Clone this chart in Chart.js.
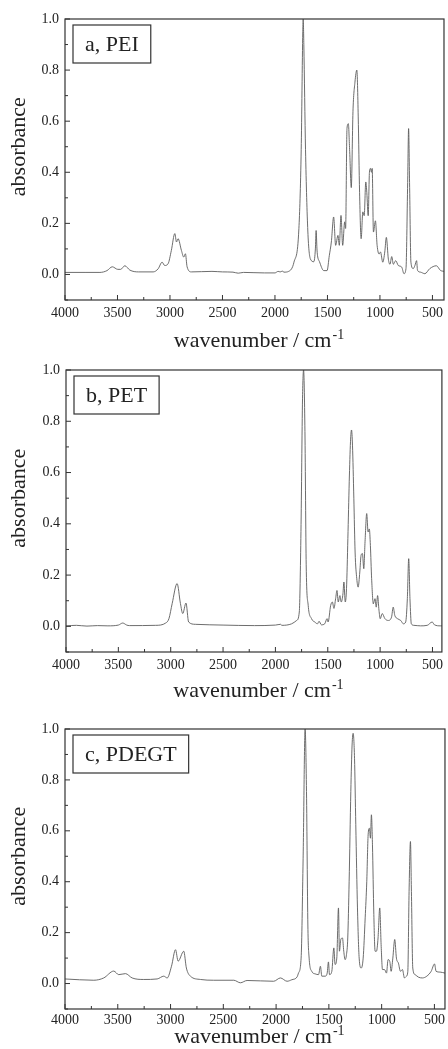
<!DOCTYPE html>
<html>
<head>
<meta charset="utf-8">
<script src="https://cdn.jsdelivr.net/npm/chart.js@4.4.1/dist/chart.umd.min.js"></script>
<style>
  body { margin: 0; background: #fff; }
  #wrap { position: relative; width: 448px; height: 1049px; }
  canvas { position: absolute; left: 0; }
</style>
</head>
<body>
<div id="wrap">
  <canvas id="pei" width="448" height="350" style="top:0px"></canvas>
  <canvas id="pet" width="448" height="350" style="top:350px"></canvas>
  <canvas id="pdegt" width="448" height="349" style="top:700px"></canvas>
</div>
<script>
// tick labels
const xTicks = [4000, 3500, 3000, 2500, 2000, 1500, 1000, 500];
const yTicks = [0.0, 0.2, 0.4, 0.6, 0.8, 1.0];

// a, PEI
const peiWavenumber = [4000, 3800, 3667, 3600, 3550, 3497, 3470, 3430, 3382, 3300, 3160, 3113, 3075, 3050, 3018, 2987, 2954, 2938, 2923, 2891, 2869, 2853, 2837, 2796, 2600, 2500, 2400, 2350, 2300, 2100, 2000, 1970, 1950, 1930, 1914, 1870, 1819, 1772, 1750, 1735, 1731, 1725, 1709, 1687, 1662, 1630, 1615, 1608, 1600, 1595, 1576, 1535, 1504, 1482, 1463, 1441, 1422, 1400, 1387, 1371, 1355, 1336, 1327, 1314, 1301, 1289, 1273, 1257, 1238, 1220, 1207, 1194, 1179, 1163, 1150, 1135, 1125, 1112, 1100, 1090, 1081, 1074, 1062, 1043, 1027, 1008, 995, 973, 954, 939, 920, 904, 888, 872, 850, 825, 793, 771, 752, 736, 727, 718, 705, 683, 667, 651, 642, 614, 572, 525, 462, 424, 390];
const peiAbsorbance = [0.008, 0.008, 0.008, 0.015, 0.03, 0.02, 0.02, 0.034, 0.017, 0.01, 0.01, 0.022, 0.048, 0.035, 0.042, 0.094, 0.16, 0.127, 0.14, 0.094, 0.068, 0.081, 0.03, 0.01, 0.012, 0.01, 0.009, 0.005, 0.008, 0.006, 0.006, 0.012, 0.01, 0.013, 0.009, 0.012, 0.048, 0.18, 0.49, 0.95, 1.0, 0.9, 0.49, 0.17, 0.06, 0.05, 0.1, 0.172, 0.1, 0.075, 0.05, 0.015, 0.015, 0.075, 0.127, 0.225, 0.114, 0.153, 0.114, 0.231, 0.114, 0.206, 0.18, 0.571, 0.59, 0.49, 0.34, 0.637, 0.753, 0.8, 0.62, 0.32, 0.14, 0.245, 0.23, 0.362, 0.32, 0.23, 0.40, 0.415, 0.40, 0.415, 0.166, 0.21, 0.114, 0.08, 0.088, 0.048, 0.088, 0.145, 0.06, 0.04, 0.07, 0.04, 0.054, 0.035, 0.029, 0.003, 0.023, 0.36, 0.571, 0.36, 0.048, 0.023, 0.035, 0.054, 0.016, 0.009, 0.003, 0.023, 0.034, 0.016, 0.012];

// b, PET
const petWavenumber = [4000, 3900, 3800, 3700, 3600, 3500, 3458, 3420, 3395, 3143, 3048, 3017, 2986, 2939, 2907, 2885, 2854, 2829, 2765, 2500, 2200, 2000, 1950, 1939, 1845, 1797, 1772, 1756, 1741, 1731, 1718, 1706, 1687, 1655, 1624, 1598, 1583, 1561, 1529, 1507, 1497, 1472, 1456, 1441, 1425, 1412, 1400, 1384, 1371, 1355, 1346, 1333, 1321, 1308, 1295, 1283, 1273, 1264, 1251, 1239, 1223, 1210, 1194, 1182, 1169, 1156, 1144, 1128, 1115, 1103, 1093, 1081, 1065, 1049, 1037, 1024, 1011, 999, 980, 954, 923, 891, 875, 860, 834, 803, 778, 756, 740, 727, 715, 702, 677, 614, 550, 503, 481, 424, 410];
const petAbsorbance = [0.002, 0.004, 0.001, 0.003, 0.002, 0.005, 0.013, 0.005, 0.003, 0.004, 0.013, 0.03, 0.089, 0.167, 0.089, 0.05, 0.091, 0.017, 0.008, 0.005, 0.003, 0.005, 0.008, 0.004, 0.01, 0.023, 0.056, 0.37, 0.89, 1.0, 0.76, 0.24, 0.082, 0.03, 0.017, 0.01, 0.02, 0.006, 0.01, 0.03, 0.017, 0.082, 0.095, 0.07, 0.108, 0.14, 0.095, 0.12, 0.095, 0.127, 0.173, 0.095, 0.147, 0.343, 0.564, 0.72, 0.766, 0.707, 0.50, 0.29, 0.186, 0.153, 0.212, 0.277, 0.284, 0.225, 0.33, 0.44, 0.368, 0.38, 0.316, 0.186, 0.088, 0.108, 0.075, 0.12, 0.063, 0.03, 0.05, 0.03, 0.023, 0.036, 0.075, 0.043, 0.03, 0.023, 0.01, 0.017, 0.108, 0.264, 0.108, 0.01, 0.004, 0.002, 0.004, 0.017, 0.006, 0.002, 0.002];

// c, PDEGT
const pdegtWavenumber = [4000, 3727, 3633, 3538, 3491, 3427, 3364, 3254, 3127, 3064, 3032, 2991, 2953, 2928, 2875, 2850, 2812, 2717, 2591, 2401, 2338, 2275, 2023, 1959, 1896, 1851, 1801, 1788, 1763, 1744, 1725, 1712, 1699, 1687, 1662, 1630, 1598, 1580, 1567, 1535, 1516, 1504, 1494, 1472, 1453, 1441, 1425, 1409, 1400, 1387, 1371, 1359, 1346, 1333, 1321, 1308, 1292, 1280, 1270, 1257, 1245, 1229, 1213, 1194, 1175, 1156, 1141, 1128, 1116, 1106, 1097, 1087, 1074, 1062, 1049, 1034, 1018, 1005, 992, 973, 954, 939, 923, 910, 894, 876, 860, 841, 822, 803, 784, 765, 752, 740, 727, 718, 705, 683, 651, 614, 572, 531, 499, 484, 446, 400];
const pdegtAbsorbance = [0.018, 0.013, 0.022, 0.049, 0.035, 0.039, 0.022, 0.016, 0.018, 0.029, 0.022, 0.068, 0.133, 0.088, 0.127, 0.061, 0.029, 0.016, 0.013, 0.013, 0.003, 0.012, 0.009, 0.022, 0.009, 0.015, 0.026, 0.041, 0.1, 0.49, 1.0, 0.754, 0.23, 0.1, 0.048, 0.038, 0.035, 0.068, 0.029, 0.029, 0.041, 0.085, 0.035, 0.048, 0.14, 0.075, 0.1, 0.297, 0.127, 0.173, 0.179, 0.127, 0.094, 0.114, 0.179, 0.4, 0.754, 0.937, 0.983, 0.885, 0.624, 0.297, 0.1, 0.061, 0.1, 0.258, 0.4, 0.584, 0.61, 0.571, 0.663, 0.545, 0.271, 0.127, 0.127, 0.179, 0.297, 0.153, 0.055, 0.055, 0.041, 0.094, 0.087, 0.048, 0.1, 0.173, 0.1, 0.08, 0.048, 0.055, 0.022, 0.029, 0.048, 0.362, 0.558, 0.362, 0.061, 0.035, 0.025, 0.022, 0.029, 0.048, 0.077, 0.048, 0.045, 0.041];

const serif = "'Liberation Serif', 'Times New Roman', serif";
const inkColor = '#222';

// draws the frame, inward ticks, the sample label box and the axis titles
const spectrumDecor = {
  id: 'spectrumDecor',
  afterDraw(chart) {
    const ctx = chart.ctx;
    const area = chart.chartArea;
    const xs = chart.scales.x;
    const ys = chart.scales.y;
    const opts = chart.options.plugins.spectrumDecor;
    ctx.save();

    // frame
    ctx.strokeStyle = '#333';
    ctx.lineWidth = 1.2;
    ctx.strokeRect(area.left, area.top, area.right - area.left, area.bottom - area.top);

    // inward ticks
    ctx.lineWidth = 1;
    ctx.beginPath();
    xTicks.forEach(v => {
      const px = xs.getPixelForValue(v);
      ctx.moveTo(px, area.bottom); ctx.lineTo(px, area.bottom - 5);
      const pm = xs.getPixelForValue(v - 250);
      if (pm < area.right - 1) { ctx.moveTo(pm, area.bottom); ctx.lineTo(pm, area.bottom - 3); }
    });
    yTicks.forEach(v => {
      const py = ys.getPixelForValue(v);
      ctx.moveTo(area.left, py); ctx.lineTo(area.left + 5, py);
      const pm = ys.getPixelForValue(v - 0.1);
      ctx.moveTo(area.left, pm); ctx.lineTo(area.left + 3, pm);
    });
    ctx.stroke();

    // sample label box
    ctx.font = '22px ' + serif;
    const tw = ctx.measureText(opts.label).width;
    const bx = area.left + 8, by = area.top + 6, bw = tw + 24, bh = 38;
    ctx.fillStyle = '#fff';
    ctx.fillRect(bx, by, bw, bh);
    ctx.strokeStyle = '#333';
    ctx.lineWidth = 1.2;
    ctx.strokeRect(bx, by, bw, bh);
    ctx.fillStyle = inkColor;
    ctx.textBaseline = 'middle';
    ctx.textAlign = 'left';
    ctx.fillText(opts.label, bx + 12, by + bh / 2 + 1);

    // y title, centred on the 0..1 range
    ctx.save();
    ctx.translate(19, (ys.getPixelForValue(0) + ys.getPixelForValue(1)) / 2);
    ctx.rotate(-Math.PI / 2);
    ctx.textAlign = 'center';
    ctx.textBaseline = 'middle';
    ctx.font = '22px ' + serif;
    ctx.fillText('absorbance', 0, 0);
    ctx.restore();

    // x title with superscript
    const main = 'wavenumber / cm';
    const sup = '-1';
    ctx.font = '22px ' + serif;
    const mw = ctx.measureText(main).width;
    ctx.font = '14px ' + serif;
    const sw = ctx.measureText(sup).width;
    const startX = (area.left + area.right) / 2 + 4 - (mw + sw) / 2;
    const baseY = area.bottom + opts.titleOffset;
    ctx.textAlign = 'left';
    ctx.textBaseline = 'alphabetic';
    ctx.font = '22px ' + serif;
    ctx.fillText(main, startX, baseY);
    ctx.font = '14px ' + serif;
    ctx.fillText(sup, startX + mw + 1, baseY - 8);

    ctx.restore();
  }
};

function createSpectrum(elementId, wavenumbers, absorbance, panel) {
  const points = wavenumbers.map((w, i) => ({ x: w, y: absorbance[i] }));
  const ctx = document.getElementById(elementId).getContext('2d');
  return new Chart(ctx, {
    type: 'line',
    data: {
      datasets: [{
        data: points,
        borderColor: '#5c5c5c',
        borderWidth: 0.9,
        pointRadius: 0,
        cubicInterpolationMode: 'monotone',
        fill: false
      }]
    },
    options: {
      responsive: false,
      animation: false,
      layout: { padding: { top: panel.top, right: panel.right, left: 0, bottom: 0 } },
      plugins: {
        legend: { display: false },
        tooltip: { enabled: false },
        spectrumDecor: { label: panel.label, titleOffset: panel.titleOffset }
      },
      scales: {
        x: {
          type: 'linear',
          reverse: true,
          min: panel.xMin,
          max: 4000,
          grid: { display: false, drawTicks: false },
          border: { display: false },
          afterBuildTicks: scale => { scale.ticks = xTicks.map(v => ({ value: v })); },
          afterFit: scale => { scale.height = panel.xAxisHeight; },
          ticks: {
            autoSkip: false,
            maxRotation: 0,
            padding: panel.tickPad,
            color: inkColor,
            font: { family: serif, size: 14 },
            callback: v => String(v)
          }
        },
        y: {
          min: -0.1,
          max: 1.0,
          grid: { display: false, drawTicks: false },
          border: { display: false },
          afterBuildTicks: scale => { scale.ticks = yTicks.map(v => ({ value: v })); },
          afterFit: scale => { scale.width = panel.left; },
          ticks: {
            padding: 6,
            color: inkColor,
            font: { family: serif, size: 14 },
            callback: v => Number(v).toFixed(1)
          }
        }
      }
    },
    plugins: [spectrumDecor]
  });
}

createSpectrum('pei', peiWavenumber, peiAbsorbance,
  { label: 'a, PEI', xMin: 390, top: 19, right: 2, left: 65, xAxisHeight: 50, titleOffset: 47, tickPad: 5 });
createSpectrum('pet', petWavenumber, petAbsorbance,
  { label: 'b, PET', xMin: 410, top: 20, right: 1, left: 66, xAxisHeight: 48, titleOffset: 45, tickPad: 5 });
createSpectrum('pdegt', pdegtWavenumber, pdegtAbsorbance,
  { label: 'c, PDEGT', xMin: 400, top: 29, right: 3, left: 65, xAxisHeight: 40, titleOffset: 34, tickPad: 3 });
</script>
</body>
</html>
